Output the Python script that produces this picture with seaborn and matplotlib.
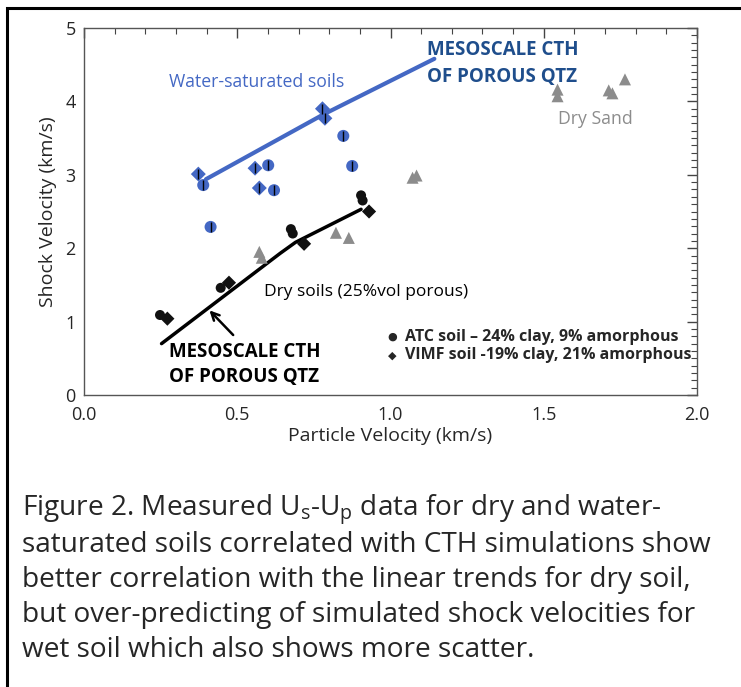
import pandas as pd
import seaborn as sns
import matplotlib.pyplot as plt
from matplotlib.ticker import MultipleLocator

# Water-saturated soils (blue)
wet_up = [0.373, 0.389, 0.413, 0.558, 0.601, 0.572, 0.620, 0.778, 0.786, 0.846, 0.875]
wet_us = [3.01, 2.86, 2.29, 3.09, 3.13, 2.82, 2.79, 3.90, 3.77, 3.53, 3.12]
wet_soil = ['VIMF', 'ATC', 'ATC', 'VIMF', 'ATC', 'VIMF', 'ATC', 'VIMF', 'VIMF', 'ATC', 'ATC']

# Dry soils (black)
dry_up = [0.248, 0.272, 0.446, 0.473, 0.675, 0.681, 0.718, 0.904, 0.909, 0.930]
dry_us = [1.09, 1.04, 1.46, 1.53, 2.26, 2.20, 2.06, 2.72, 2.65, 2.50]
dry_soil = ['ATC', 'VIMF', 'ATC', 'VIMF', 'ATC', 'ATC', 'VIMF', 'ATC', 'ATC', 'VIMF']

# Dry sand (grey triangles)
sand_up = [0.572, 0.580, 0.822, 0.864, 1.072, 1.085, 1.545, 1.545, 1.712, 1.724, 1.765]
sand_us = [1.95, 1.87, 2.21, 2.14, 2.96, 2.99, 4.16, 4.07, 4.15, 4.11, 4.30]

# Mesoscale CTH simulations of porous quartz
cth_wet_up = [0.398, 0.78, 1.143]
cth_wet_us = [2.94, 3.82, 4.58]
cth_dry_up = [0.253, 0.640, 0.690, 0.904]
cth_dry_us = [0.70, 1.93, 2.08, 2.53]

caption = [
    r"Figure 2. Measured U$_\mathregular{s}$-U$_\mathregular{p}$ data for dry and water-",
    "saturated soils correlated with CTH simulations show",
    "better correlation with the linear trends for dry soil,",
    "but over-predicting of simulated shock velocities for",
    "wet soil which also shows more scatter.",
]

BLUE = '#4468c4'
NAVY = '#1f4e8c'
GREY = '#8c8c8c'

sns.set_style('white')
plt.rcParams['font.family'] = ['Open Sans', 'DejaVu Sans']
plt.rcParams['mathtext.default'] = 'regular'

wet = pd.DataFrame({'up': wet_up, 'us': wet_us, 'soil': wet_soil})
dry = pd.DataFrame({'up': dry_up, 'us': dry_us, 'soil': dry_soil})
sand = pd.DataFrame({'up': sand_up, 'us': sand_us})
markers = {'ATC': 'o', 'VIMF': 'D'}
sizes = {'ATC': 75, 'VIMF': 58}

fig = plt.figure(figsize=(7.41, 6.87), dpi=100)
ax = fig.add_axes([84 / 741, 1 - 395 / 687, 613 / 741, 367 / 687])

# CTH lines
sns.lineplot(x=cth_wet_up, y=cth_wet_us, sort=False, estimator=None, color=BLUE, lw=3, ax=ax)
sns.lineplot(x=cth_dry_up, y=cth_dry_us, sort=False, estimator=None, color='black', lw=2.5, ax=ax)

# measured points
sns.scatterplot(data=sand, x='up', y='us', marker='^', s=75, color=GREY, edgecolor='none', ax=ax, zorder=3)
sns.scatterplot(data=wet, x='up', y='us', style='soil', markers=markers, size='soil', sizes=sizes,
                color=BLUE, edgecolor='none', legend=False, ax=ax, zorder=3)
ax.errorbar(wet['up'], wet['us'], yerr=0.07, fmt='none', ecolor='black', elinewidth=1, zorder=4)
sns.scatterplot(data=dry, x='up', y='us', style='soil', markers=markers, s=52, color='#111111',
                edgecolor='none', legend=False, ax=ax, zorder=3)

# annotations
ax.text(0.277, 4.27, 'Water-saturated soils', color=BLUE, fontsize=12.7, va='center')
ax.text(1.118, 4.70, 'MESOSCALE CTH', color=NAVY, fontsize=13.5, fontweight='bold', va='center')
ax.text(1.118, 4.33, 'OF POROUS QTZ', color=NAVY, fontsize=13.5, fontweight='bold', va='center')
ax.text(1.548, 3.76, 'Dry Sand', color=GREY, fontsize=12.7, va='center')
ax.text(0.588, 1.41, 'Dry soils (25%vol porous)', color='black', fontsize=12.5, va='center')
ax.text(0.278, 0.59, 'MESOSCALE CTH', color='black', fontsize=13.5, fontweight='bold', va='center')
ax.text(0.278, 0.24, 'OF POROUS QTZ', color='black', fontsize=13.5, fontweight='bold', va='center')
ax.annotate('', xy=(0.403, 1.18), xytext=(0.493, 0.79),
            arrowprops=dict(arrowstyle='->', color='black', lw=1.8, mutation_scale=14))
ax.text(1.007, 0.79, '\u25cf', family='DejaVu Sans', fontsize=8, va='center', ha='center')
ax.text(1.007, 0.54, '\u25c6', family='DejaVu Sans', fontsize=8, va='center', ha='center')
ax.text(1.048, 0.79, 'ATC soil \u2013 24% clay, 9% amorphous', fontsize=11.5, fontweight='bold', va='center')
ax.text(1.048, 0.54, 'VIMF soil -19% clay, 21% amorphous', fontsize=11.5, fontweight='bold', va='center',
        clip_on=False)

ax.set_xlim(0, 2)
ax.set_ylim(0, 5)
ax.xaxis.set_minor_locator(MultipleLocator(0.1))
ax.yaxis.set_major_locator(MultipleLocator(1))
ax.yaxis.set_minor_locator(MultipleLocator(0.1))
ax.set_xticks([0, 0.5, 1.0, 1.5, 2.0])
ax.set_xticklabels(['0.0', '0.5', '1.0', '1.5', '2.0'])
ax.tick_params(which='both', direction='in', top=True, right=True, color='#444444', labelsize=13)
ax.tick_params(which='major', length=7, width=1)
ax.tick_params(which='minor', length=4, width=0.8)
ax.tick_params(axis='x', pad=8)
ax.tick_params(axis='y', pad=6)
for sp in ax.spines.values():
    sp.set_color('#555555')
    sp.set_linewidth(1)
ax.set_xlabel('Particle Velocity (km/s)', fontsize=14, labelpad=2)
ax.set_ylabel('Shock Velocity (km/s)', fontsize=14, labelpad=6)

# caption
for i, line in enumerate(caption):
    fig.text(22 / 741, 1 - (510 + 35 * i) / 687, line, fontsize=20.2, va='center')

# outer frame
fig.add_artist(plt.Rectangle((7 / 741, -0.1), 1.2, 1.1 - 8 / 687, transform=fig.transFigure,
                             fill=False, lw=2.2, edgecolor='black', clip_on=False))

fig.savefig('out.png', dpi=100)
